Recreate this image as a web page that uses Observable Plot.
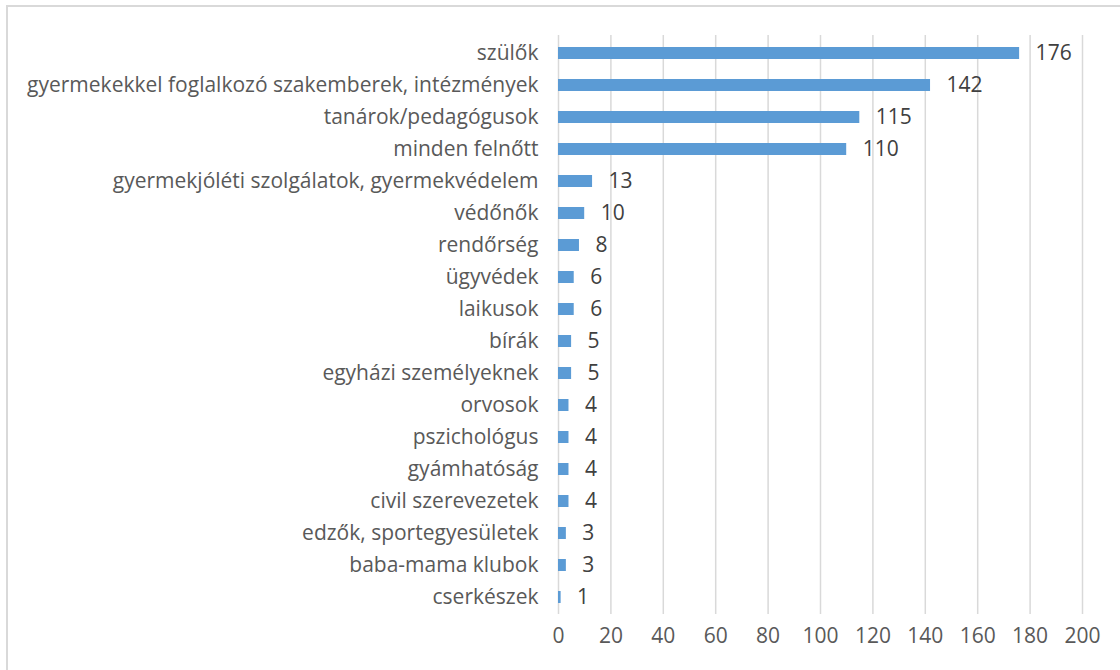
<!DOCTYPE html>
<html>
<head>
<meta charset="utf-8">
<script src="https://cdn.jsdelivr.net/npm/d3@7"></script>
<script src="https://cdn.jsdelivr.net/npm/@observablehq/plot@0.6"></script>
<style>
  html, body { margin: 0; padding: 0; background: #fff; overflow: hidden; }
  #wrap { position: relative; width: 1120px; height: 670px; }
  #frame { position: absolute; left: 6px; top: 5px; width: 1300px; height: 900px; border: 2px solid #d9d9d9; box-sizing: border-box; pointer-events: none; }
  svg { font-family: "Open Sans", "Noto Sans", sans-serif; }
</style>
</head>
<body>
<div id="wrap"><div id="frame"></div></div>
<script>
const categories = [
  "szülők",
  "gyermekekkel foglalkozó szakemberek, intézmények",
  "tanárok/pedagógusok",
  "minden felnőtt",
  "gyermekjóléti szolgálatok, gyermekvédelem",
  "védőnők",
  "rendőrség",
  "ügyvédek",
  "laikusok",
  "bírák",
  "egyházi személyeknek",
  "orvosok",
  "pszichológus",
  "gyámhatóság",
  "civil szerevezetek",
  "edzők, sportegyesületek",
  "baba-mama klubok",
  "cserkészek"
];
const values = [176, 142, 115, 110, 13, 10, 8, 6, 6, 5, 5, 4, 4, 4, 4, 3, 3, 1];
const xTicks = [0, 20, 40, 60, 80, 100, 120, 140, 160, 180, 200];

const data = categories.map((c, i) => ({category: c, value: values[i]}));

const chart = Plot.plot({
  width: 1120,
  height: 670,
  marginLeft: 558,
  marginRight: 38,
  marginTop: 35,
  marginBottom: 56,
  style: {fontSize: "21px", fontFamily: "'Open Sans', 'Noto Sans', sans-serif", color: "#595959", background: "transparent"},
  x: {domain: [0, 200], ticks: xTicks, tickSize: 0, tickPadding: 14, label: null},
  y: {domain: categories, padding: 0, tickSize: 0, tickPadding: 20, label: null},
  marks: [
    Plot.ruleX(xTicks, {stroke: "#d9d9d9", strokeWidth: 1.5}),
    Plot.barX(data, {x: "value", y: "category", fill: "#5b9bd5", insetTop: 10, insetBottom: 10}),
    Plot.text(data, {x: "value", y: "category", text: d => String(d.value), textAnchor: "start", dx: 16, fill: "#404040", fontSize: 21})
  ]
});
document.getElementById("wrap").prepend(chart);
</script>
</body>
</html>
